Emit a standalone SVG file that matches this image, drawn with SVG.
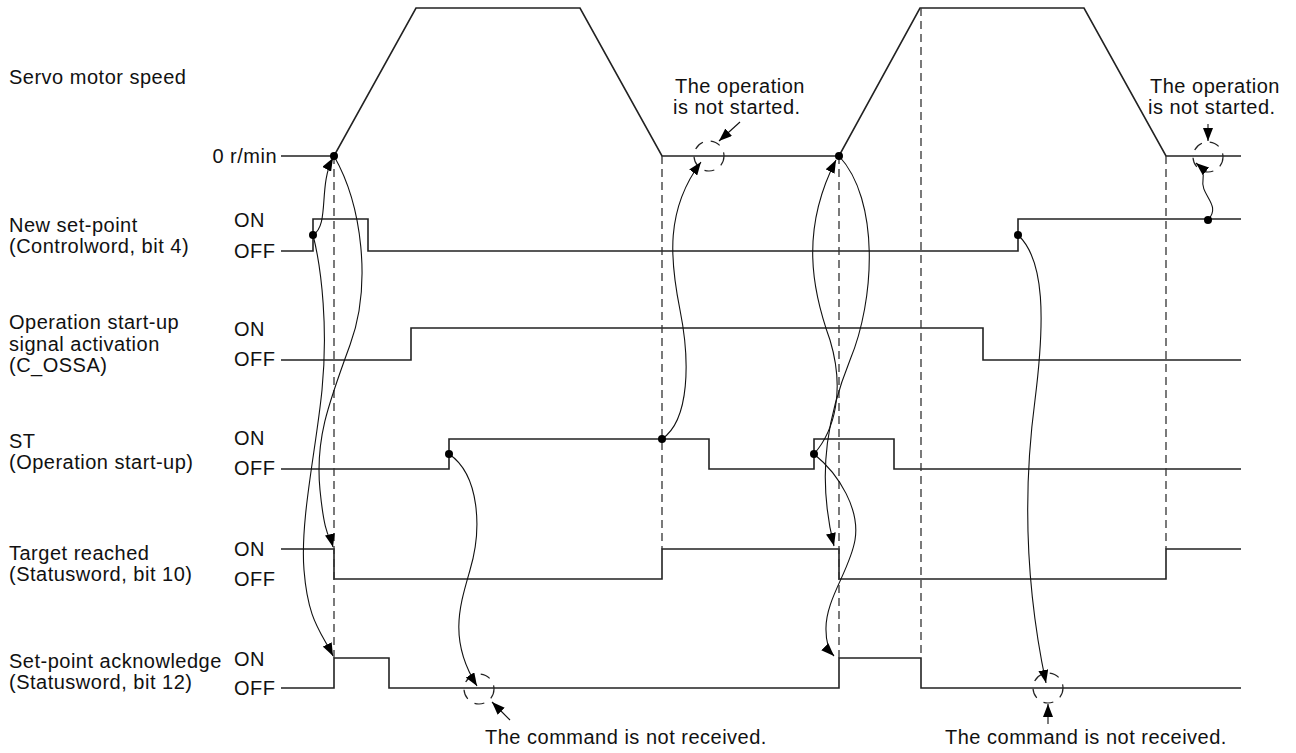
<svg xmlns="http://www.w3.org/2000/svg" width="1296" height="753" viewBox="0 0 1296 753">
<defs>
<style>
text{font-family:"Liberation Sans",Arial,sans-serif;font-size:20px;letter-spacing:0.5px;fill:#111}
.sig{fill:none;stroke:#222;stroke-width:1.6}
.dash{fill:none;stroke:#333;stroke-width:1.3;stroke-dasharray:8 5}
.cur{fill:none;stroke:#111;stroke-width:1.1}
.circ{fill:none;stroke:#222;stroke-width:1.2;stroke-dasharray:10 8}
.dot{fill:#000}
</style>
<marker id="ah" viewBox="0 0 13 10" refX="13" refY="5" markerWidth="13" markerHeight="10" markerUnits="userSpaceOnUse" orient="auto"><path d="M0,0 L13,5 L0,10 z" fill="#000"/></marker>
</defs>

<g id="labels">
<text x="9" y="84">Servo motor speed</text>
<text x="277" y="163" text-anchor="end">0 r/min</text>
<text x="9" y="232">New set-point</text>
<text x="9" y="253">(Controlword, bit 4)</text>
<text x="234" y="227">ON</text>
<text x="234" y="258">OFF</text>
<text x="9" y="329">Operation start-up</text>
<text x="9" y="351">signal activation</text>
<text x="9" y="372">(C_OSSA)</text>
<text x="234" y="336">ON</text>
<text x="234" y="366">OFF</text>
<text x="9" y="448">ST</text>
<text x="9" y="469">(Operation start-up)</text>
<text x="234" y="445">ON</text>
<text x="234" y="475">OFF</text>
<text x="9" y="560">Target reached</text>
<text x="9" y="581">(Statusword, bit 10)</text>
<text x="234" y="556">ON</text>
<text x="234" y="586">OFF</text>
<text x="9" y="668">Set-point acknowledge</text>
<text x="9" y="689">(Statusword, bit 12)</text>
<text x="234" y="666">ON</text>
<text x="234" y="695">OFF</text>
</g>

<g id="annotations">
<text x="675" y="93">The operation</text>
<text x="673" y="114">is not started.</text>
<text x="1150" y="93">The operation</text>
<text x="1148" y="114">is not started.</text>
<text x="485" y="744">The command is not received.</text>
<text x="945" y="744">The command is not received.</text>
</g>

<g id="signals">
<path id="speed" class="sig" d="M281 156 H334 L416 8 H580 L662 156 H839 L920 8 H1084 L1166 156 H1241"/>
<path id="newsetpoint" class="sig" d="M281 251 H313 V219 H368 V251 H1018 V219 H1241"/>
<path id="cossa" class="sig" d="M281 360 H411 V328 H983 V360 H1241"/>
<path id="st" class="sig" d="M281 469 H449 V439 H709 V469 H814 V439 H894 V469 H1241"/>
<path id="target" class="sig" d="M281 549 H334 V579 H662 V549 H839 V579 H1166 V549 H1241"/>
<path id="ack" class="sig" d="M281 688 H334 V658 H389 V688 H839 V658 H921 V688 H1241"/>
</g>

<g id="guides">
<line class="dash" x1="334" y1="156" x2="334" y2="658"/>
<line class="dash" x1="662" y1="156" x2="662" y2="549"/>
<line class="dash" x1="839" y1="156" x2="839" y2="658"/>
<line class="dash" x1="921" y1="8" x2="921" y2="658"/>
<line class="dash" x1="1166" y1="156" x2="1166" y2="549"/>
<circle class="circ" cx="709" cy="156" r="15"/>
<circle class="circ" cx="1208" cy="157" r="15"/>
<circle class="circ" cx="479" cy="689" r="15"/>
<circle class="circ" cx="1048" cy="688" r="15"/>
</g>

<g id="connectors">
<path class="cur" marker-end="url(#ah)" d="M313 235 C330 225, 318 185, 333 158"/>
<path class="cur" marker-end="url(#ah)" d="M313 235 C322 270, 328 330, 322 390 S300 520, 304 570 S320 630, 333 656"/>
<path class="cur" marker-end="url(#ah)" d="M334 156 C362 205, 372 285, 350 345 S315 440, 320 490 S330 535, 333 547"/>
<path class="cur" marker-end="url(#ah)" d="M449 454 C480 475, 482 530, 470 570 C460 605, 448 640, 477 686"/>
<path class="cur" marker-end="url(#ah)" d="M662 439 C690 420, 690 360, 680 310 C670 260, 665 210, 701 162"/>
<path class="cur" marker-end="url(#ah)" d="M814 454 C835 430, 845 390, 830 340 C812 290, 800 230, 836 160"/>
<path class="cur" marker-end="url(#ah)" d="M839 156 C880 200, 875 300, 850 360 C830 410, 815 470, 834 546"/>
<path class="cur" marker-end="url(#ah)" d="M814 454 C840 475, 860 510, 855 540 C850 570, 825 600, 826 630 C826 640, 828 650, 834 656"/>
<path class="cur" marker-end="url(#ah)" d="M1018 235 C1045 260, 1045 320, 1035 400 C1027 460, 1020 560, 1046 683"/>
<path class="cur" marker-end="url(#ah)" d="M1208 220 C1222 205, 1200 195, 1203 180 C1204 172, 1202 168, 1196 163"/>
<path class="cur" marker-end="url(#ah)" d="M740 122 L719 141"/>
<path class="cur" marker-end="url(#ah)" d="M1208 124 L1208 141"/>
<path class="cur" marker-end="url(#ah)" d="M510 720 L492 702"/>
<path class="cur" marker-end="url(#ah)" d="M1048 724 L1048 704"/>
</g>

<g id="dots">
<circle class="dot" cx="334" cy="156" r="4"/>
<circle class="dot" cx="313" cy="235" r="4"/>
<circle class="dot" cx="449" cy="454" r="4"/>
<circle class="dot" cx="662" cy="439" r="4"/>
<circle class="dot" cx="839" cy="156" r="4"/>
<circle class="dot" cx="814" cy="454" r="4"/>
<circle class="dot" cx="1018" cy="235" r="4"/>
<circle class="dot" cx="1208" cy="220" r="4"/>
</g>
</svg>
